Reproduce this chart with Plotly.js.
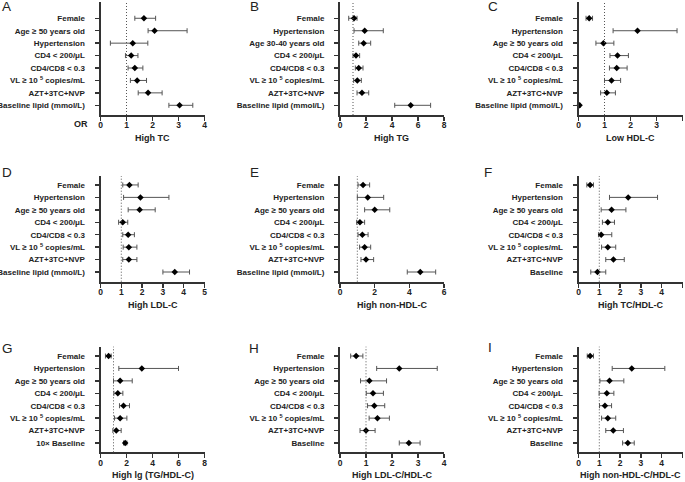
<!DOCTYPE html>
<html>
<head>
<meta charset="utf-8">
<script src="https://cdn.plot.ly/plotly-3.0.1.min.js"></script>
<style>html,body{margin:0;padding:0;background:#fff;}#chart{width:685px;height:482px;}</style>
</head>
<body>
<div id="chart"></div>
<script>
// ---- Data (odds ratios with 95% CI) ----
const labelsA = ['Female','Age ≥ 50 years old','Hypertension','CD4 < 200/μL','CD4/CD8 < 0.3','VL ≥ 10 <sup>5</sup> copies/mL','AZT+3TC+NVP','Baseline lipid (mmol/L)'];
const labelsB = ['Female','Hypertension','Age 30-40 years old','CD4 < 200/μL','CD4/CD8 < 0.3','VL ≥ 10 <sup>5</sup> copies/mL','AZT+3TC+NVP','Baseline lipid (mmol/L)'];
const labelsCDE = ['Female','Hypertension','Age ≥ 50 years old','CD4 < 200/μL','CD4/CD8 < 0.3','VL ≥ 10 <sup>5</sup> copies/mL','AZT+3TC+NVP','Baseline lipid (mmol/L)'];
const labelsFHI = ['Female','Hypertension','Age ≥ 50 years old','CD4 < 200/μL','CD4/CD8 < 0.3','VL ≥ 10 <sup>5</sup> copies/mL','AZT+3TC+NVP','Baseline'];
const labelsG = ['Female','Hypertension','Age ≥ 50 years old','CD4 < 200/μL','CD4/CD8 < 0.3','VL ≥ 10 <sup>5</sup> copies/mL','AZT+3TC+NVP','10× Baseline'];

const orA = [1.67, 2.08, 1.24, 1.18, 1.32, 1.41, 1.83, 3.04];
const loA = [1.32, 1.83, 0.38, 0.96, 1.06, 1.15, 1.45, 2.63];
const hiA = [2.12, 3.33, 1.82, 1.44, 1.63, 1.77, 2.37, 3.55];

const orB = [1.08, 1.90, 1.82, 1.23, 1.44, 1.33, 1.69, 5.44];
const loB = [0.67, 1.08, 1.44, 1.00, 1.18, 1.05, 1.31, 4.21];
const hiB = [1.31, 3.33, 2.36, 1.51, 1.77, 1.64, 2.21, 6.97];

const orC = [0.41, 2.27, 0.96, 1.50, 1.47, 1.27, 1.09, 0.04];
const loC = [0.29, 1.33, 0.67, 1.21, 1.19, 1.00, 0.85, 0.02];
const hiC = [0.54, 3.79, 1.36, 1.92, 1.87, 1.62, 1.42, 0.07];

const orD = [1.39, 1.92, 1.88, 1.07, 1.33, 1.36, 1.36, 3.57];
const loD = [1.07, 1.11, 1.33, 0.87, 1.07, 1.09, 1.07, 3.00];
const hiD = [1.81, 3.29, 2.63, 1.31, 1.63, 1.75, 1.75, 4.28];

const orE = [1.33, 1.60, 2.00, 1.15, 1.29, 1.42, 1.50, 4.63];
const loE = [1.04, 1.00, 1.42, 0.96, 1.04, 1.13, 1.21, 3.88];
const hiE = [1.71, 2.52, 2.87, 1.42, 1.62, 1.77, 1.94, 5.52];

const orF = [0.56, 2.39, 1.59, 1.41, 1.09, 1.41, 1.68, 0.91];
const loF = [0.40, 1.49, 1.09, 1.15, 0.96, 1.11, 1.31, 0.59];
const hiF = [0.72, 3.80, 2.28, 1.73, 1.60, 1.79, 2.20, 1.31];

const orG = [0.62, 3.18, 1.51, 1.33, 1.77, 1.51, 1.21, 1.90];
const loG = [0.38, 1.41, 1.00, 1.03, 1.46, 1.08, 0.95, 1.77];
const hiG = [0.82, 6.00, 2.44, 1.72, 2.23, 2.03, 1.59, 2.03];

const orH = [0.62, 2.28, 1.13, 1.27, 1.32, 1.44, 1.00, 2.65];
const loH = [0.41, 1.41, 0.79, 1.01, 1.06, 1.12, 0.77, 2.28];
const hiH = [0.88, 3.74, 1.79, 1.67, 1.72, 1.90, 1.35, 3.08];

const orI = [0.56, 2.56, 1.49, 1.36, 1.27, 1.41, 1.67, 2.37];
const loI = [0.42, 1.62, 1.03, 0.99, 1.01, 1.11, 1.31, 2.12];
const hiI = [0.72, 4.15, 2.18, 1.70, 1.59, 1.79, 2.16, 2.68];

const panelLetters = ['A','B','C','D','E','F','G','H','I'];
const panelTitles = ['High TC','High TG','Low HDL-C','High LDL-C','High non-HDL-C','High TC/HDL-C','High lg (TG/HDL-C)','High LDL-C/HDL-C','High non-HDL-C/HDL-C'];
const xMax = [4, 8, 4, 5, 6, 5, 8, 4, 5];
const xStep = [1, 2, 1, 1, 2, 1, 2, 1, 1];

// ---- Build panels ----
const W = 685, H = 482;
const panels = [
  {lab: labelsA, or: orA, lo: loA, hi: hiA},
  {lab: labelsB, or: orB, lo: loB, hi: hiB},
  {lab: labelsCDE, or: orC, lo: loC, hi: hiC},
  {lab: labelsCDE, or: orD, lo: loD, hi: hiD},
  {lab: labelsCDE, or: orE, lo: loE, hi: hiE},
  {lab: labelsFHI, or: orF, lo: loF, hi: hiF},
  {lab: labelsG, or: orG, lo: loG, hi: hiG},
  {lab: labelsFHI, or: orH, lo: loH, hi: hiH},
  {lab: labelsFHI, or: orI, lo: loI, hi: hiI}
];
const colPx = [[100.5, 204.5], [340, 444], [578.5, 682.5]];
const rowPx = [[2, 115], [176, 281.7], [346.7, 452.3]];
const rowRange = [[7.78, -1.31], [7.78, -0.72], [7.75, -0.75]];
const letterPx = [[0, 7], [248, 7], [486, 7], [0, 172], [248, 172], [482, 172], [0, 348], [247, 348], [486, 347]];

const fx = p => p / W;
const fy = p => 1 - p / H;
const txtColor = '#222';
const axColor = '#333';
const fontFam = 'Liberation Sans, Arial, sans-serif';

const data = [];
const layout = {
  width: W, height: H,
  margin: {l: 0, r: 0, t: 0, b: 0},
  paper_bgcolor: '#fff', plot_bgcolor: '#fff',
  showlegend: false,
  font: {family: fontFam, color: txtColor},
  annotations: [], shapes: []
};

panels.forEach((p, i) => {
  const r = Math.floor(i / 3), c = i % 3;
  const n = i + 1;
  const xa = n === 1 ? 'xaxis' : 'xaxis' + n;
  const ya = n === 1 ? 'yaxis' : 'yaxis' + n;
  const xr = n === 1 ? 'x' : 'x' + n;
  const yr = n === 1 ? 'y' : 'y' + n;
  const idx = p.lab.map((_, k) => k);
  data.push({
    type: 'scatter', mode: 'markers',
    x: p.or, y: idx, xaxis: xr, yaxis: yr,
    marker: {symbol: 'diamond', size: 5, color: '#000'},
    error_x: {
      type: 'data', symmetric: false,
      array: p.hi.map((h, k) => h - p.or[k]),
      arrayminus: p.lo.map((l, k) => p.or[k] - l),
      color: '#555', thickness: 1, width: 2.5
    },
    cliponaxis: false, hoverinfo: 'skip'
  });
  const ticks = [];
  for (let t = 0; t <= xMax[i]; t += xStep[i]) ticks.push(t);
  layout[xa] = {
    domain: [fx(colPx[c][0]), fx(colPx[c][1])],
    anchor: yr, range: [0, xMax[i]],
    tickvals: ticks, ticktext: ticks.map(String),
    showgrid: false, zeroline: false,
    showline: true, linecolor: axColor, linewidth: 2,
    ticks: 'outside', ticklen: 4, tickwidth: 1.5, tickcolor: axColor,
    ticklabelstandoff: -3,
    tickfont: {family: fontFam, size: 8.5, color: txtColor, weight: 'bold'},
    fixedrange: true
  };
  layout[ya] = {
    domain: [fy(rowPx[r][1]), fy(rowPx[r][0])],
    anchor: xr, range: rowRange[r],
    tickvals: idx, ticktext: p.lab,
    showgrid: false, zeroline: false,
    showline: true, linecolor: axColor, linewidth: 2,
    ticks: 'outside', ticklen: 4, tickwidth: 1.5, tickcolor: axColor,
    ticklabelstandoff: 8,
    tickfont: {family: fontFam, size: 8, color: txtColor, weight: 'bold'},
    fixedrange: true
  };
  // reference line at OR = 1
  layout.shapes.push({
    type: 'line', xref: xr, yref: yr + ' domain',
    x0: 1, x1: 1, y0: 0, y1: 1,
    line: {color: '#555', width: 1, dash: '1px,2px'}
  });
  // panel title
  layout.annotations.push({
    text: panelTitles[i], xref: 'paper', yref: 'paper',
    x: fx((colPx[c][0] + colPx[c][1]) / 2), y: fy(rowPx[r][1] + 23),
    xanchor: 'center', yanchor: 'middle', showarrow: false,
    font: {family: fontFam, size: 9, color: txtColor, weight: 'bold'}
  });
  // panel letter
  layout.annotations.push({
    text: panelLetters[i], xref: 'paper', yref: 'paper',
    x: fx(letterPx[i][0]), y: fy(letterPx[i][1]),
    xanchor: 'left', yanchor: 'middle', showarrow: false,
    font: {family: fontFam, size: 13.5, color: txtColor}
  });
});

// "OR" label in panel A
layout.annotations.push({
  text: 'OR', xref: 'paper', yref: 'paper',
  x: fx(80.5), y: fy(124), xanchor: 'center', yanchor: 'middle', showarrow: false,
  font: {family: fontFam, size: 9, color: txtColor, weight: 'bold'}
});

Plotly.newPlot('chart', data, layout, {displayModeBar: false, staticPlot: true});
</script>
</body>
</html>
